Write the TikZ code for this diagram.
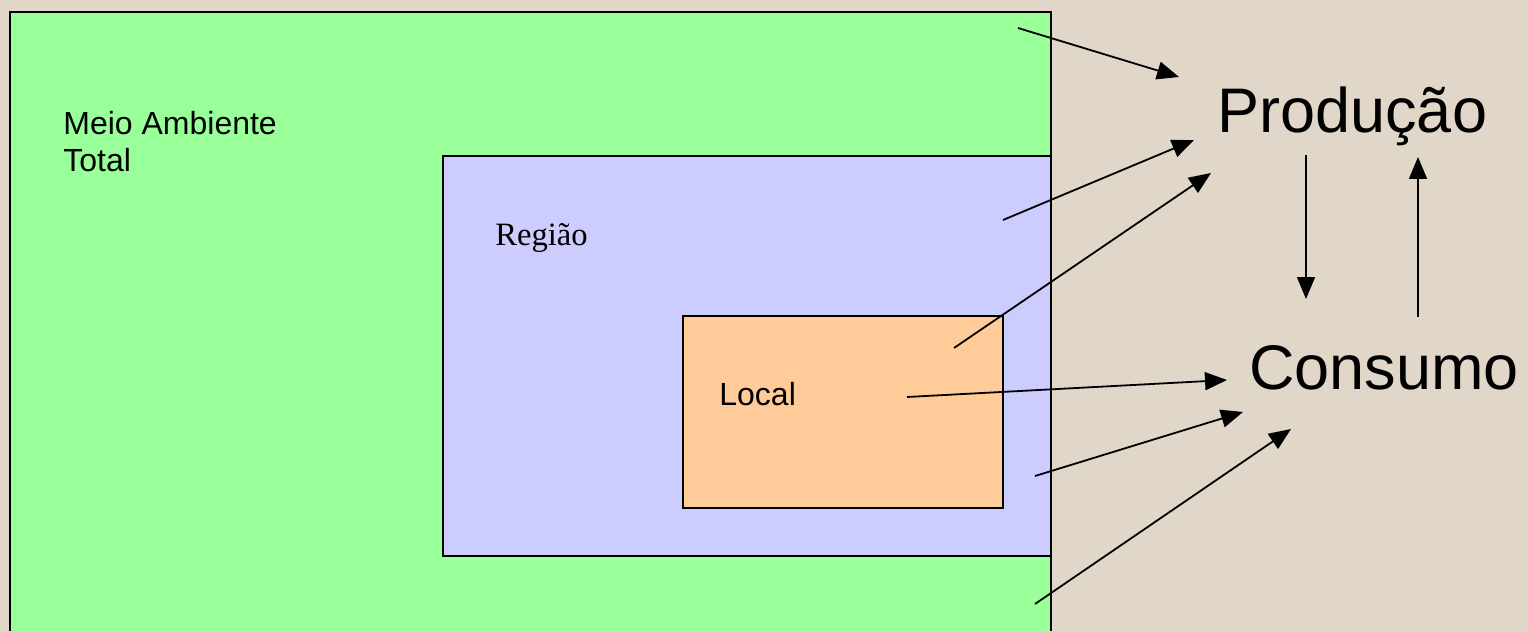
\documentclass[tikz,border=0pt]{standalone}
\usepackage{fontspec}
\setmainfont{Liberation Serif}
\newfontfamily\arial{Liberation Sans}
\usetikzlibrary{arrows.meta}
\definecolor{bgbeige}{HTML}{E0D7C9}
\definecolor{totalgreen}{HTML}{99FF99}
\definecolor{regionblue}{HTML}{CCCCFF}
\definecolor{localorange}{HTML}{FFCC99}
\tikzset{
  area/.style={draw=black, line width=0.75pt, inner sep=0pt, outer sep=0pt, anchor=north west},
  lbl/.style={inner sep=0pt, anchor=base west, font=\arial\fontsize{16pt}{19pt}\selectfont},
  big/.style={inner sep=0pt, anchor=base west, font=\arial\fontsize{31.5pt}{38pt}\selectfont},
  flow/.style={line width=0.9pt, -{Triangle[length=11pt,width=9pt]}}
}
\begin{document}
\begin{tikzpicture}[x=0.5pt,y=-0.5pt]
\useasboundingbox (0,0) rectangle (1527,631);
\clip (0,0) rectangle (1527,631);
\fill[bgbeige] (0,0) rectangle (1527,631);
% areas
\node[area, fill=totalgreen, minimum width=520.5pt, minimum height=314.5pt] (total) at (10,12) {};
\node[area, fill=regionblue, minimum width=304pt, minimum height=200pt] (regiao) at (443,156) {};
\node[area, fill=localorange, minimum width=160pt, minimum height=96pt] (local) at (683,316) {};
% labels
\node[lbl] (tlbl) at (63,134) {Meio Ambiente};
\node[lbl] (tlbl2) at (63,171) {Total};
\node[inner sep=0pt, anchor=base west, font=\fontsize{16.3pt}{19pt}\selectfont] (rlbl) at (495,245) {Região};
\node[lbl] (llbl) at (719,405) {Local};
\node[big] (prod) at (1217,133) {Produção};
\node[big] (cons) at (1249,389) {Consumo};
% connector end points
\coordinate (s1) at (1018,28);   \coordinate (t1) at (1179,77);
\coordinate (s2) at (1003,220);  \coordinate (t2) at (1194,140);
\coordinate (s3) at (954,348);   \coordinate (t3) at (1211,173);
\coordinate (s4) at (907,397);   \coordinate (t4) at (1227,380);
\coordinate (s5) at (1035,476);  \coordinate (t5) at (1243,412);
\coordinate (s6) at (1035,604);  \coordinate (t6) at (1291,429);
\coordinate (s7) at (1306,155);  \coordinate (t7) at (1306,299);
\coordinate (s8) at (1418,317);  \coordinate (t8) at (1418,157);
\draw[flow] (s1) -- (t1);
\draw[flow] (s2) -- (t2);
\draw[flow] (s3) -- (t3);
\draw[flow] (s4) -- (t4);
\draw[flow] (s5) -- (t5);
\draw[flow] (s6) -- (t6);
\draw[flow] (s7) -- (t7);
\draw[flow] (s8) -- (t8);
\end{tikzpicture}
\end{document}
